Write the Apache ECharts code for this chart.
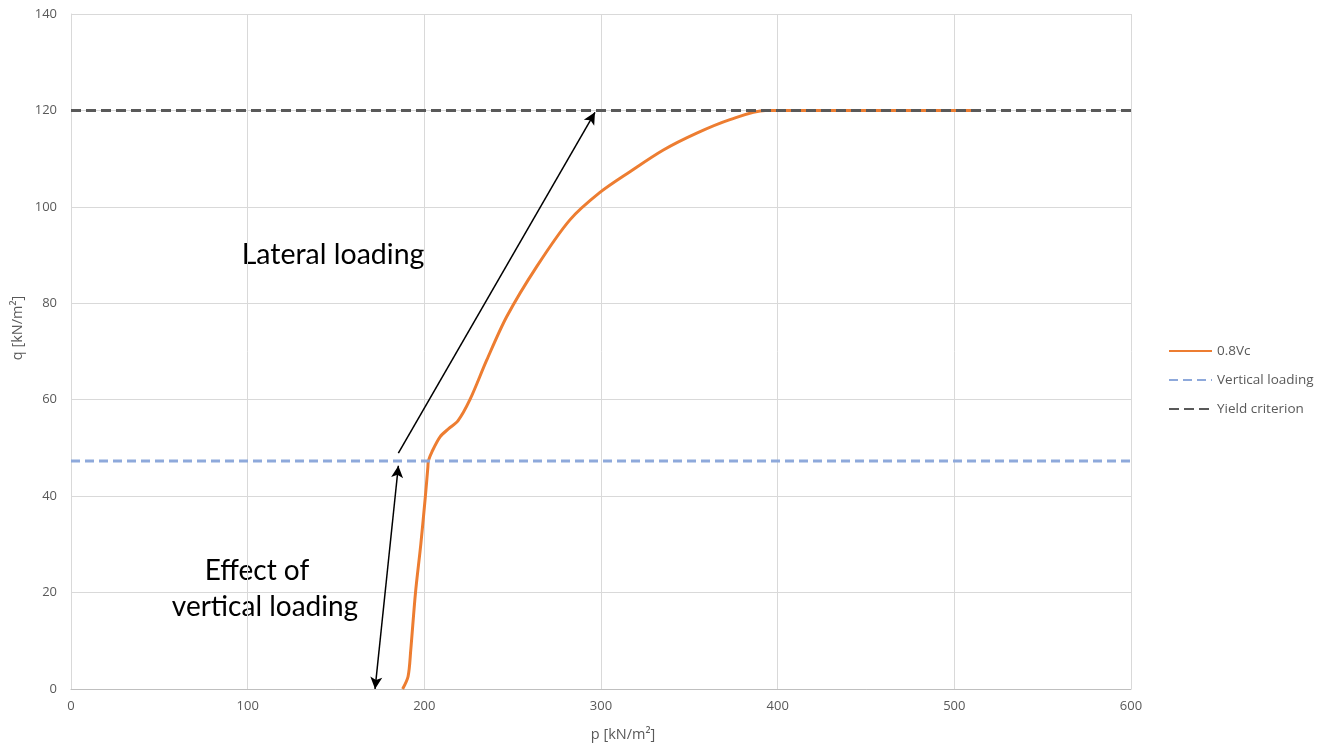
<!DOCTYPE html>
<html>
<head>
<meta charset="utf-8">
<script src="https://cdn.jsdelivr.net/npm/echarts@6/dist/echarts.min.js"></script>
<style>
  html, body { margin: 0; padding: 0; background: #ffffff; }
  #chart { width: 1330px; height: 746px; }
</style>
</head>
<body>
<div id="chart"></div>
<script>
// Stress path of the 0.8Vc case in p–q space
const curveP = [187.7, 190.8, 192.3, 195.0, 198.0, 200.6, 202.0, 202.3, 204.3, 208.9, 213.8, 219.0, 225.8, 235.3, 246.6, 263.6, 282.4, 299.4, 316.4, 335.3, 354.2, 373.0, 393.0, 512.0];
const curveQ = [0, 2.6, 8.0, 20.0, 30.0, 40.0, 46.0, 47.3, 49.2, 52.3, 54.0, 55.6, 60.0, 68.2, 77.2, 87.6, 97.3, 103.0, 107.3, 111.8, 115.3, 118.1, 120.0, 120.0];

// Horizontal reference levels
const verticalLoadingQ = 47.3;
const yieldQ = 120;
const refP = [0, 600];

// Annotation arrows [pStart, qStart, pEnd, qEnd]
const arrowVertical = [172.1, 0, 185.3, 46.3];
const arrowLateral = [185.3, 48.9, 296.6, 119.6];

const seriesNames = ['0.8Vc', 'Vertical loading', 'Yield criterion'];
const xTicks = { min: 0, max: 600, interval: 100 };
const yTicks = { min: 0, max: 140, interval: 20 };

const labelColor = '#595959';
const uiFont = '"Open Sans", Lato, sans-serif';
const noteFont = 'Lato, "Open Sans", sans-serif';

const chart = echarts.init(document.getElementById('chart'), null, { renderer: 'canvas' });

const option = {
  animation: false,
  backgroundColor: '#ffffff',
  grid: { left: 71, right: 199, top: 14, bottom: 57, containLabel: false },
  xAxis: {
    type: 'value', min: xTicks.min, max: xTicks.max, interval: xTicks.interval,
    axisLine: { show: true, lineStyle: { color: '#BFBFBF', width: 1 } },
    axisTick: { show: false },
    splitLine: { show: true, lineStyle: { color: '#D9D9D9', width: 1 } },
    axisLabel: { color: labelColor, fontSize: 13, fontFamily: uiFont, margin: 11 }
  },
  yAxis: {
    type: 'value', min: yTicks.min, max: yTicks.max, interval: yTicks.interval,
    axisLine: { show: true, lineStyle: { color: '#D9D9D9', width: 1 } },
    axisTick: { show: false },
    splitLine: { show: true, lineStyle: { color: '#D9D9D9', width: 1 } },
    axisLabel: { color: labelColor, fontSize: 13, fontFamily: uiFont, margin: 14 }
  },
  legend: {
    orient: 'vertical', left: 1168, top: 344, padding: 0,
    itemWidth: 43, itemHeight: 14, itemGap: 15,
    itemStyle: { opacity: 0 },
    textStyle: { color: labelColor, fontSize: 13.5, fontFamily: uiFont, padding: [0, 0, 0, 0] },
    data: seriesNames
  },
  series: [
    {
      name: seriesNames[0], type: 'line', symbol: 'none', smooth: 0.3,
      data: curveP.map((p, i) => [p, curveQ[i]]),
      lineStyle: { color: '#ED7D31', width: 3 },
      itemStyle: { color: '#ED7D31' },
      z: 2,
      markLine: {
        silent: true, animation: false,
        label: { show: false },
        lineStyle: { color: '#000000', width: 1.5, type: 'solid' },
        symbolSize: [9, 12],
        data: [
          [
            { coord: [arrowVertical[0], arrowVertical[1]], symbol: 'arrow' },
            { coord: [arrowVertical[2], arrowVertical[3]], symbol: 'arrow' }
          ],
          [
            { coord: [arrowLateral[0], arrowLateral[1]], symbol: 'none' },
            { coord: [arrowLateral[2], arrowLateral[3]], symbol: 'arrow' }
          ]
        ]
      }
    },
    {
      name: seriesNames[1], type: 'line', symbol: 'none',
      data: refP.map(p => [p, verticalLoadingQ]),
      lineStyle: { color: '#8EA9DB', width: 3, type: [9, 5] },
      itemStyle: { color: '#8EA9DB' },
      z: 3
    },
    {
      name: seriesNames[2], type: 'line', symbol: 'none',
      data: refP.map(p => [p, yieldQ]),
      lineStyle: { color: '#595959', width: 3, type: [10, 5] },
      itemStyle: { color: '#595959' },
      z: 4
    }
  ],
  graphic: [
    {
      type: 'text', x: 623, y: 735,
      style: { text: 'p [kN/m²]', fill: labelColor, font: '14.5px ' + uiFont, align: 'center', verticalAlign: 'middle' }
    },
    {
      type: 'text', x: 18, y: 328, rotation: Math.PI / 2,
      style: { text: 'q [kN/m²]', fill: labelColor, font: '14.5px ' + uiFont, align: 'center', verticalAlign: 'middle' }
    },
    {
      type: 'text', x: 333, y: 255,
      style: { text: 'Lateral loading', fill: '#000000', font: '28.5px ' + noteFont, align: 'center', verticalAlign: 'middle' }
    },
    {
      type: 'text', x: 257, y: 571,
      style: { text: 'Effect of', fill: '#000000', font: '28px ' + noteFont, align: 'center', verticalAlign: 'middle' }
    },
    {
      type: 'text', x: 265, y: 607,
      style: { text: 'vertical loading', fill: '#000000', font: '28px ' + noteFont, align: 'center', verticalAlign: 'middle' }
    }
  ]
};

chart.setOption(option);
</script>
</body>
</html>
